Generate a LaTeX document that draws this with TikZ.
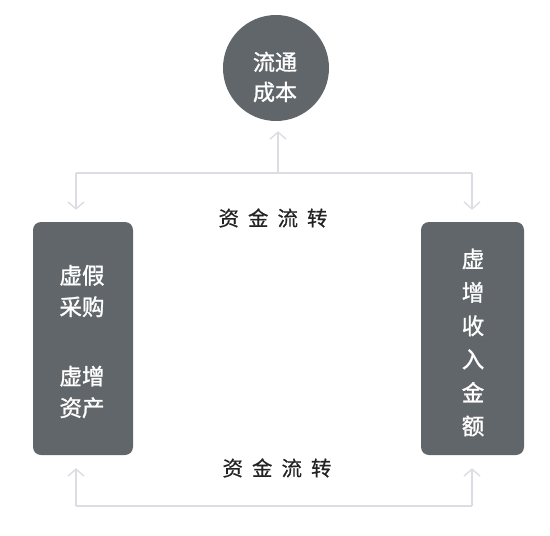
\documentclass[tikz,border=0pt]{standalone}
\usepackage{fontspec}
\setmainfont{Noto Sans CJK SC}
\newfontfamily\cjkw[FakeBold=1.2]{Noto Sans CJK SC}
\newfontfamily\cjkl[FakeBold=0.5]{Noto Sans CJK SC}
\usetikzlibrary{arrows.meta}
\definecolor{boxgray}{HTML}{61666B}
\definecolor{linegray}{HTML}{DEDCE2}
\definecolor{txtdark}{HTML}{222222}
\begin{document}
\begin{tikzpicture}[x=1pt,y=-1pt,
  box/.style={draw=none,fill=boxgray,rounded corners=8pt,inner sep=0pt},
  wtxt/.style={text=white,font=\cjkw\fontsize{22.5}{31.5}\selectfont,align=center,inner sep=0pt},
  conn/.style={draw=linegray,line width=1.4pt,-{Straight Barb[length=7pt,width=16pt]}},
  lbl/.style={text=txtdark,font=\cjkl\fontsize{20.5}{22}\selectfont,inner sep=0pt}]
\useasboundingbox (0,0) rectangle (550,536);
% circle
\node[circle,fill=boxgray,minimum size=106pt,inner sep=0pt] (c) at (276,68) {};
\node[wtxt,font=\cjkw\fontsize{22}{30}\selectfont] (ct) at (275,77) {流通\\成本};
% boxes
\node[box,minimum width=100pt,minimum height=233pt] (lb) at (83,338.5) {};
\node[box,minimum width=103pt,minimum height=233pt] (rb) at (472.5,338.5) {};
\node[wtxt] (l1) at (82,291) {虚假\\采购};
\node[wtxt] (l2) at (82,392) {虚增\\资产};
\node[wtxt,font=\cjkw\fontsize{22.5}{33.4}\selectfont] (r1) at (473,342.5) {虚\\增\\收\\入\\金\\额};
% labels
\node[lbl] (t1) at (273,218) {资\hspace{9pt}金\hspace{9pt}流\hspace{9pt}转};
\node[lbl] (t2) at (277,468) {资\hspace{9pt}金\hspace{9pt}流\hspace{9pt}转};
% connector junctions
\coordinate (jl) at (76,173);
\coordinate (jm) at (278,173);
\coordinate (jr) at (472,173);
\coordinate (bl) at (76,506);
\coordinate (br) at (472,506);
% top connectors
\draw[conn,-] (jl) -- (jr);
\draw[conn,shorten >=12pt] (jl) -- (jl |- lb.north);
\draw[conn,shorten >=12pt] (jr) -- (jr |- rb.north);
\draw[conn,shorten >=10pt] (jm) -- (jm |- c.south);
% bottom connectors
\draw[conn,-] (bl) -- (br);
\draw[conn,shorten >=13pt] (bl) -- (bl |- lb.south);
\draw[conn,shorten >=13pt] (br) -- (br |- rb.south);
\end{tikzpicture}
\end{document}
